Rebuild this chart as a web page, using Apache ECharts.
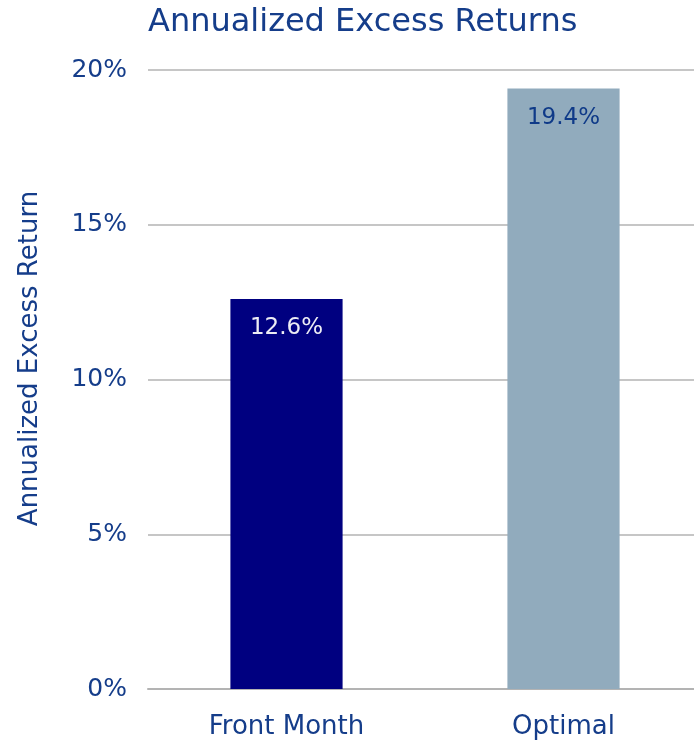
<!DOCTYPE html>
<html>
<head>
<meta charset="utf-8">
<script src="https://cdn.jsdelivr.net/npm/echarts@6/dist/echarts.min.js"></script>
<style>html,body{margin:0;padding:0;background:#fff;overflow:hidden}#c{width:702px;height:743px}</style>
</head>
<body>
<div id="c"></div>
<script>
const categories = ['Front Month', 'Optimal'];
const values = [12.6, 19.4];
const barColors = ['#000080', '#91abbd'];
const labelColors = ['#ececf4', '#0f3a88'];
const yTicks = [0, 5, 10, 15, 20];

const textColor = '#153d8a';
const font = '"DejaVu Sans", Verdana, sans-serif';
const chart = echarts.init(document.getElementById('c'), null, {renderer: 'canvas'});
chart.setOption({
  animation: false,
  title: {
    text: 'Annualized Excess Returns',
    left: 148, top: 7, padding: 0,
    textStyle: {fontFamily: font, fontSize: 32, fontWeight: 'normal', color: textColor}
  },
  grid: {left: 148, right: 0, top: 70, bottom: 54},
  xAxis: {
    type: 'category',
    data: categories,
    axisLine: {show: true, lineStyle: {color: '#b3b3b3', width: 2}},
    axisTick: {show: false},
    axisLabel: {fontFamily: font, fontSize: 26, color: textColor, margin: 25}
  },
  yAxis: {
    type: 'value',
    min: yTicks[0], max: yTicks[yTicks.length - 1], interval: 5,
    name: 'Annualized Excess Return',
    nameLocation: 'middle',
    nameGap: 105,
    nameTextStyle: {fontFamily: font, fontSize: 26, color: textColor, padding: [0, 0, 0, 42]},
    axisLine: {show: false},
    axisTick: {show: false},
    splitLine: {lineStyle: {color: '#b3b3b3', width: 1.5}},
    axisLabel: {fontFamily: font, fontSize: 25, color: textColor, margin: 21, formatter: v => v + '%'}
  },
  series: [{
    type: 'bar',
    barWidth: '40.5%',
    data: values.map((v, i) => ({
      value: v,
      itemStyle: {color: barColors[i]},
      label: {color: labelColors[i]}
    })),
    label: {
      show: true,
      position: 'insideTop',
      distance: 18,
      fontFamily: font,
      fontSize: 23,
      formatter: p => p.value.toFixed(1) + '%'
    }
  }]
});
</script>
</body>
</html>
